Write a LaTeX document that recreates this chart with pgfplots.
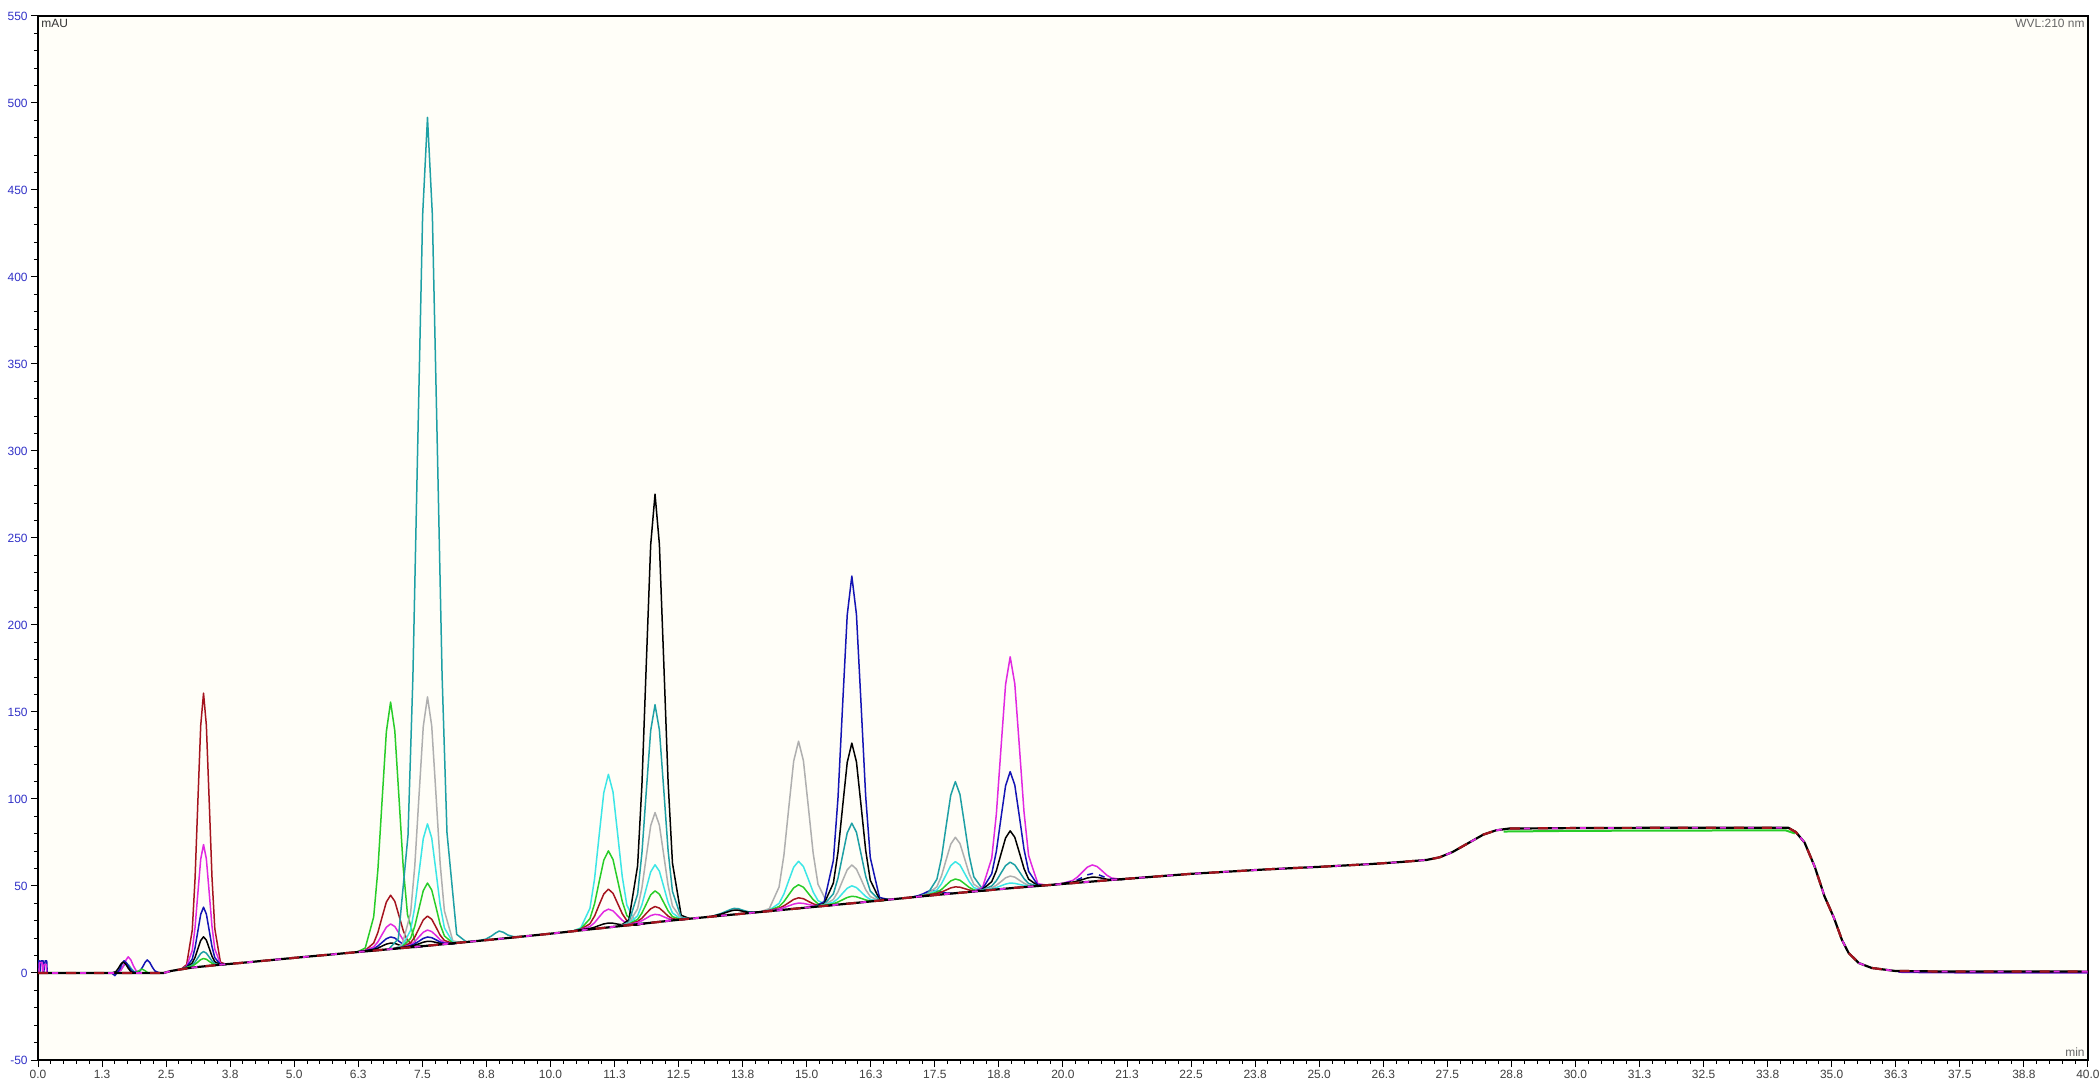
\documentclass[border=0pt]{standalone}
\usepackage{fontspec}
\setmainfont{Liberation Sans}
\usepackage{pgfplots}
\pgfplotsset{compat=1.18}
\usepackage{pgfplotstable}
\definecolor{cDR}{RGB}{165,20,30}
\definecolor{cMG}{RGB}{225,40,225}
\definecolor{cBL}{RGB}{20,20,180}
\definecolor{cPU}{RGB}{100,20,210}
\definecolor{cTL}{RGB}{30,160,165}
\definecolor{cGR}{RGB}{40,205,40}
\definecolor{cCY}{RGB}{60,230,230}
\definecolor{cGY}{RGB}{175,175,175}
\definecolor{cTick}{RGB}{50,50,200}
\definecolor{cBg}{RGB}{255,254,248}

% shared baseline (min, mAU)
\pgfplotstableread{
t v
0 0
1.5 0
2.45 0
2.6 1.2
3.0 3.1
3.5 4.6
4.0 5.9
5.0 8.7
6.0 11.4
7.5 15.4
9.0 19.6
10.0 22.6
11.0 25.8
12.5 30.6
14.0 34.8
15.0 37.6
16.0 40.4
17.5 44.8
19.0 48.8
20.0 51.2
21.0 53.6
22.5 57
24.0 59.6
25.0 61
26.0 62.6
26.6 63.8
27.1 65
27.35 66.5
27.6 69.5
27.9 74.5
28.2 79.5
28.45 82
28.7 83
30 83.3
32 83.5
34.15 83.5
34.3 81
34.47 75
34.67 61
34.86 44
35.04 32
35.2 19
35.33 11.5
35.53 5.7
35.78 2.9
36.23 1.2
37 0.9
40 0.8
}\baseT

\pgfplotstableread{
x dr mg bl bk tl gr
2.79 2.1 2.1 2.1 2.1 2.1 2.1
2.90 4.8 3.9 3.5 3.3 3.2 3.2
3.01 24.6 12.9 8.0 5.7 4.5 4.0
3.065 54.5 26.3 14.6 9.0 6.3 5.0
3.12 98.9 46.1 24.2 13.9 8.8 6.3
3.175 142.2 65.4 33.7 18.7 11.2 7.7
3.23 160.8 73.8 37.8 20.8 12.3 8.3
3.285 142.4 65.6 33.9 18.9 11.4 7.9
3.34 99.3 46.5 24.6 14.3 9.2 6.7
3.395 55.1 26.9 15.2 9.6 6.9 5.6
3.45 25.4 13.7 8.8 6.5 5.3 4.8
3.56 6.2 5.3 4.9 4.7 4.6 4.6
3.67 5.0 5.0 5.0 5.0 5.0 5.0
}\clA

\pgfplotstableread{
x gr dr mg bl bk
6.22 12.0 12.0 12.0 12.0 12.0
6.385 14.3 13.0 12.9 12.8 12.7
6.55 32.2 17.2 15.0 13.9 13.5
6.6325 59.4 23.3 17.9 15.5 14.3
6.715 99.6 32.2 22.2 17.6 15.5
6.7975 138.7 40.8 26.3 19.7 16.6
6.88 155.7 44.7 28.2 20.7 17.2
6.9625 139.1 41.2 26.7 20.1 17.0
7.045 100.2 32.8 22.8 18.2 16.1
7.1275 60.4 24.3 18.9 16.5 15.3
7.21 33.6 18.6 16.4 15.3 14.9
7.375 16.3 15.0 14.9 14.8 14.7
7.54 15.5 15.5 15.5 15.5 15.5
}\clB

\pgfplotstableread{
x gy cy gr dr mg bl bk
6.94 13.9 13.9 13.9 13.9 13.9 13.9 13.9
7.105 16.2 15.4 15.0 14.8 14.7 14.7 14.6
7.27 34.3 24.5 19.9 17.3 16.2 15.7 15.3
7.3525 61.7 38.0 26.9 20.7 18.1 16.8 16.0
7.435 102.1 57.8 37.2 25.6 20.8 18.3 16.8
7.5175 141.6 77.2 47.3 30.5 23.4 19.9 17.7
7.6 158.7 85.7 51.7 32.7 24.7 20.7 18.2
7.6825 142.0 77.6 47.7 30.9 23.8 20.3 18.1
7.765 102.9 58.6 38.0 26.4 21.6 19.1 17.6
7.8475 62.7 39.0 27.9 21.7 19.1 17.8 17.0
7.93 35.7 25.9 21.3 18.7 17.6 17.1 16.7
8.095 18.4 17.6 17.2 17.0 16.9 16.9 16.8
8.26 17.5 17.5 17.5 17.5 17.5 17.5 17.5
}\clC

\pgfplotstableread{
x tl
6.84 13.6
7.03 19.6
7.22 79.2
7.315 169.8
7.41 304.2
7.505 435.3
7.6 491.7
7.695 435.7
7.79 305.0
7.885 171.0
7.98 80.8
8.17 22.2
8.36 17.8
}\clCt

\pgfplotstableread{
x cy gr dr mg bk
10.41 23.9 23.9 23.9 23.9 23.9
10.59 25.9 25.4 25.1 25.0 24.9
10.77 37.2 31.2 28.3 26.7 25.6
10.86 54.1 39.8 32.7 28.9 26.3
10.95 79.2 52.5 39.2 32.2 27.3
11.04 103.6 64.8 45.4 35.3 28.2
11.13 114.2 70.2 48.2 36.7 28.7
11.22 104.0 65.2 45.8 35.7 28.6
11.31 80.0 53.3 40.0 33.0 28.1
11.4 55.5 41.2 34.1 30.3 27.7
11.49 39.0 33.0 30.1 28.5 27.4
11.67 28.5 28.0 27.7 27.6 27.5
11.85 28.5 28.5 28.5 28.5 28.5
}\clE

\pgfplotstableread{
x bk tl gy cy gr dr mg
11.36 27.0 27.0 27.0 27.0 27.0 27.0 27.0
11.53 30.6 29.3 28.6 28.3 28.1 28.0 27.95
11.7 61.6 45.3 36.9 32.9 30.8 29.6 29.0
11.785 108.6 69.2 49.1 39.3 34.5 31.5 30.1
11.87 178.1 104.7 67.0 48.8 39.7 34.3 31.5
11.955 246.0 139.3 84.6 58.1 44.9 36.9 33.0
12.04 275.2 154.2 92.2 62.2 47.2 38.2 33.7
12.125 246.4 139.7 85.0 58.5 45.3 37.3 33.4
12.21 178.9 105.5 67.8 49.6 40.5 35.1 32.3
12.295 109.8 70.4 50.3 40.5 35.7 32.7 31.3
12.38 63.2 46.9 38.5 34.5 32.4 31.2 30.6
12.55 33.2 31.9 31.2 30.9 30.7 30.6 30.55
12.72 31.2 31.2 31.2 31.2 31.2 31.2 31.2
}\clF

\pgfplotstableread{
x gy cy gr dr mg
14.08 35.0 35.0 35.0 35.0 35.0
14.27 37.0 36.2 36.0 36.0 35.9
14.46 49.4 40.0 38.2 37.2 36.8
14.555 67.8 45.4 41.0 38.6 37.6
14.65 95.1 53.2 45.0 40.4 38.6
14.745 121.7 60.8 48.9 42.3 39.6
14.84 133.2 64.2 50.7 43.2 40.2
14.935 122.1 61.2 49.3 42.7 40.0
15.03 95.9 54.0 45.8 41.2 39.4
15.125 69.0 46.6 42.2 39.8 38.8
15.22 51.0 41.6 39.8 38.8 38.4
15.41 39.6 38.8 38.6 38.6 38.5
15.6 39.3 39.3 39.3 39.3 39.3
}\clH

\pgfplotstableread{
x bl bk tl gy cy gr
15.16 38.1 38.1 38.1 38.1 38.1 38.1
15.34 41.0 39.9 39.4 39.1 39.0 38.9
15.52 64.7 51.7 45.5 42.3 40.7 39.8
15.61 100.6 69.4 54.5 46.7 42.8 40.8
15.7 153.8 95.5 67.6 53.1 45.8 42.1
15.79 205.7 121.0 80.5 59.3 48.7 43.4
15.88 228.1 132.1 86.1 62.1 50.1 44.1
15.97 206.1 121.4 80.9 59.7 49.1 43.8
16.06 154.6 96.3 68.4 53.9 46.6 42.9
16.15 101.8 70.6 55.7 47.9 44.0 42.0
16.24 66.3 53.3 47.1 43.9 42.3 41.4
16.42 43.4 42.3 41.8 41.5 41.4 41.3
16.6 42.2 42.2 42.2 42.2 42.2 42.2
}\clI

\pgfplotstableread{
x tl gy cy gr dr
17.18 43.9 43.9 43.9 43.9 43.9
17.36 45.6 45.3 45.1 45.0 44.9
17.54 53.9 49.6 47.7 46.4 45.8
17.63 66.2 55.8 51.3 48.0 46.5
17.72 84.4 65.0 56.5 50.5 47.7
17.81 102.2 74.0 61.7 52.9 48.9
17.9 110.0 78.0 64.0 54.0 49.5
17.99 102.6 74.4 62.1 53.3 49.3
18.08 85.2 65.8 57.3 51.3 48.5
18.17 67.4 57.0 52.5 49.2 47.7
18.26 55.3 51.0 49.1 47.8 47.2
18.44 47.8 47.5 47.3 47.2 47.1
18.62 47.8 47.8 47.8 47.8 47.8
}\clK

\pgfplotstableread{
x mg bl bk tl gy cy
18.25 46.8 46.8 46.8 46.8 46.8 46.8
18.43 49.1 48.3 48.0 47.8 47.7 47.6
18.61 66.0 57.0 52.5 50.0 48.9 48.4
18.7 91.3 69.9 58.8 53.0 50.4 49.1
18.79 129.0 89.0 68.3 57.4 52.5 50.1
18.88 165.8 107.6 77.6 61.7 54.7 51.1
18.97 181.7 115.7 81.7 63.7 55.7 51.7
19.06 166.2 108.0 78.0 62.1 55.1 51.5
19.15 129.8 89.8 69.1 58.2 53.3 50.9
19.24 92.5 71.1 60.0 54.2 51.6 50.3
19.33 67.4 58.4 53.9 51.4 50.3 49.8
19.51 51.3 50.5 50.2 50.0 49.9 49.8
19.69 50.5 50.5 50.5 50.5 50.5 50.5
}\clL

\pgfplotstableread{
x mg bl bk
19.81 50.7 50.7 50.7
20.0 51.6 51.55 51.5
20.19 53.2 52.5 52.2
20.285 55.2 53.6 52.9
20.38 58.0 54.9 53.7
20.475 60.8 56.4 54.6
20.57 62.1 57.1 55.1
20.665 61.2 56.8 55.0
20.76 58.8 55.7 54.5
20.855 56.2 54.6 53.9
20.95 54.6 53.9 53.6
21.14 53.8 53.75 53.7
21.33 54.3 54.3 54.3
}\clM

\begin{document}
\begin{tikzpicture}
\useasboundingbox (0,0) rectangle (1050bp,544bp);
\fill[white] (0,0) rectangle (1050bp,544bp);
\begin{axis}[
  at={(19bp,14bp)}, anchor=south west,
  scale only axis, width=1025bp, height=522bp,
  xmin=0, xmax=40, ymin=-50, ymax=550,
  axis background/.style={fill=cBg},
  xtick={0,1.25,2.5,3.75,5,6.25,7.5,8.75,10,11.25,12.5,13.75,15,16.25,17.5,18.75,20,21.25,22.5,23.75,25,26.25,27.5,28.75,30,31.25,32.5,33.75,35,36.25,37.5,38.75,40},
  xticklabels={0.0,1.3,2.5,3.8,5.0,6.3,7.5,8.8,10.0,11.3,12.5,13.8,15.0,16.3,17.5,18.8,20.0,21.3,22.5,23.8,25.0,26.3,27.5,28.8,30.0,31.3,32.5,33.8,35.0,36.3,37.5,38.8,40.0},
  ytick={-50,0,50,100,150,200,250,300,350,400,450,500,550},
  yticklabels={-50,0,50,100,150,200,250,300,350,400,450,500,550},
  minor x tick num=4, minor y tick num=4,
  tick align=outside, tick pos=left,
  major tick length=3.5bp, minor tick length=2bp,
  tick style={black, line width=0.5bp},
  axis line style={black, line width=0.9bp},
  x tick label style={font=\fontsize{6}{7}\selectfont, text=black!75, inner sep=1.5bp},
  y tick label style={font=\fontsize{6}{7}\selectfont, text=cTick, inner sep=1.5bp},
  no markers,
  every axis plot/.append style={line width=0.75bp, line join=round},
]
% injection marks and early small peaks
\addplot[cBL] coordinates {(0,0)(0.01,7)(0.03,7)(0.04,1)(0.06,7)(0.1,7)(0.11,0)(0.14,7)(0.17,7)(0.18,0)};
\addplot[cMG] coordinates {(0.02,0)(0.03,6)(0.08,6)(0.09,0)(0.12,5)(0.16,5)(0.17,0)};
\addplot[cTL] coordinates {(1.48,0)(1.58,0.9)(1.63,2.5)(1.68,4.5)(1.72,5.5)(1.77,4.5)(1.82,2.5)(1.87,0.9)(1.96,0)};
\addplot[cMG] coordinates {(1.52,0)(1.62,1.5)(1.67,4.2)(1.72,7.6)(1.76,9.3)(1.81,7.6)(1.86,4.2)(1.91,1.5)(2.0,0)};
\addplot[cBL] coordinates {(1.44,0)(1.5,-1.5)(1.55,0.5)(1.6,2.5)(1.64,5.3)(1.68,7)(1.73,5.7)(1.78,3.1)(1.83,1.0)(1.92,0)};
\addplot[black] coordinates {(1.44,0)(1.52,0.8)(1.57,2.8)(1.62,5.2)(1.66,6.3)(1.71,5.2)(1.76,2.8)(1.81,0.8)(1.88,0)};
\addplot[cBL] coordinates {(1.89,0)(1.99,1.2)(2.04,3.4)(2.09,6.1)(2.13,7.5)(2.18,6.1)(2.23,3.4)(2.28,1.2)(2.37,0)};
\addplot[cGR] coordinates {(1.9,0)(1.98,1.5)(2.03,2.2)(2.08,1.5)(2.15,0)};
% cluster 3.2 min
\addplot[cDR] table[x=x,y=dr]{\clA};
\addplot[cMG] table[x=x,y=mg]{\clA};
\addplot[cBL] table[x=x,y=bl]{\clA};
\addplot[black] table[x=x,y=bk]{\clA};
\addplot[cTL] table[x=x,y=tl]{\clA};
\addplot[cGR] table[x=x,y=gr]{\clA};
% cluster 6.9 min
\addplot[cGR] table[x=x,y=gr]{\clB};
\addplot[cDR] table[x=x,y=dr]{\clB};
\addplot[cMG] table[x=x,y=mg]{\clB};
\addplot[cBL] table[x=x,y=bl]{\clB};
\addplot[black] table[x=x,y=bk]{\clB};
% cluster 7.6 min
\addplot[cTL] table[x=x,y=tl]{\clCt};
\addplot[cGY] table[x=x,y=gy]{\clC};
\addplot[cCY] table[x=x,y=cy]{\clC};
\addplot[cGR] table[x=x,y=gr]{\clC};
\addplot[cDR] table[x=x,y=dr]{\clC};
\addplot[cMG] table[x=x,y=mg]{\clC};
\addplot[cBL] table[x=x,y=bl]{\clC};
\addplot[black] table[x=x,y=bk]{\clC};
% small bump 9.0 min
\addplot[cTL] coordinates {(8.4,18.0)(8.58,18.4)(8.74,19.5)(8.85,21.3)(8.93,23.0)(9.0,24.1)(9.08,23.4)(9.17,21.8)(9.28,20.9)(9.43,20.9)(9.6,21.4)};
% cluster 11.1 min
\addplot[cCY] table[x=x,y=cy]{\clE};
\addplot[cGR] table[x=x,y=gr]{\clE};
\addplot[cDR] table[x=x,y=dr]{\clE};
\addplot[cMG] table[x=x,y=mg]{\clE};
\addplot[black] table[x=x,y=bk]{\clE};
% cluster 12.0 min
\addplot[black] table[x=x,y=bk]{\clF};
\addplot[cTL] table[x=x,y=tl]{\clF};
\addplot[cGY] table[x=x,y=gy]{\clF};
\addplot[cCY] table[x=x,y=cy]{\clF};
\addplot[cGR] table[x=x,y=gr]{\clF};
\addplot[cDR] table[x=x,y=dr]{\clF};
\addplot[cMG] table[x=x,y=mg]{\clF};
% small bump 13.6 min
\addplot[cTL] coordinates {(13.15,32.6)(13.32,34.1)(13.44,35.6)(13.52,36.6)(13.58,37.1)(13.66,37.0)(13.75,36.1)(13.86,35.2)(14.03,34.9)};
\addplot[black] coordinates {(13.15,32.6)(13.32,33.8)(13.44,34.9)(13.52,35.7)(13.58,36.1)(13.66,36.1)(13.75,35.5)(13.86,34.9)(14.03,34.9)};
% cluster 14.8 min
\addplot[cGY] table[x=x,y=gy]{\clH};
\addplot[cCY] table[x=x,y=cy]{\clH};
\addplot[cGR] table[x=x,y=gr]{\clH};
\addplot[cDR] table[x=x,y=dr]{\clH};
\addplot[cMG] table[x=x,y=mg]{\clH};
% cluster 15.9 min
\addplot[cBL] table[x=x,y=bl]{\clI};
\addplot[black] table[x=x,y=bk]{\clI};
\addplot[cTL] table[x=x,y=tl]{\clI};
\addplot[cGY] table[x=x,y=gy]{\clI};
\addplot[cCY] table[x=x,y=cy]{\clI};
\addplot[cGR] table[x=x,y=gr]{\clI};
% small bump 17.4 min
\addplot[cBL] coordinates {(17.0,43.3)(17.17,44.4)(17.28,45.6)(17.36,46.8)(17.43,47.5)(17.51,47.3)(17.62,46.6)(17.73,45.9)(17.86,45.8)};
% cluster 17.9 min
\addplot[cTL] table[x=x,y=tl]{\clK};
\addplot[cGY] table[x=x,y=gy]{\clK};
\addplot[cCY] table[x=x,y=cy]{\clK};
\addplot[cGR] table[x=x,y=gr]{\clK};
\addplot[cDR] table[x=x,y=dr]{\clK};
% cluster 19.0 min
\addplot[cMG] table[x=x,y=mg]{\clL};
\addplot[cBL] table[x=x,y=bl]{\clL};
\addplot[black] table[x=x,y=bk]{\clL};
\addplot[cTL] table[x=x,y=tl]{\clL};
\addplot[cGY] table[x=x,y=gy]{\clL};
\addplot[cCY] table[x=x,y=cy]{\clL};
% cluster 20.6 min
\addplot[cMG] table[x=x,y=mg]{\clM};
\addplot[cBL, dashed] table[x=x,y=bl]{\clM};
\addplot[black] table[x=x,y=bk]{\clM};
% baseline of all runs
\addplot[cGR, line width=1bp] coordinates {(28.6,81.3)(30,81.7)(34.1,82.0)(34.28,80.2)};
\addplot[cPU, line width=1bp] coordinates {(36.3,0.6)(37,0.3)(40,0.2)};
\addplot[black, line width=1.1bp] table[x=t,y=v]{\baseT};
\addplot[cDR, line width=1.1bp, dash pattern=on 5bp off 9bp] table[x=t,y=v]{\baseT};
\addplot[cMG, line width=0.9bp, dash pattern=on 3bp off 11bp, dash phase=7bp] table[x=t,y=v]{\baseT};
% labels
\node[anchor=north west, font=\fontsize{6}{7}\selectfont, text=black!80, inner sep=1.5bp] at (rel axis cs:0,1) {mAU};
\node[anchor=north east, font=\fontsize{6}{7}\selectfont, text=black!60, inner sep=1.5bp] at (rel axis cs:1,1) {WVL:210 nm};
\node[anchor=south east, font=\fontsize{6}{7}\selectfont, text=black!60, inner sep=1.5bp] at (rel axis cs:1,0) {min};
\end{axis}
\end{tikzpicture}
\end{document}
